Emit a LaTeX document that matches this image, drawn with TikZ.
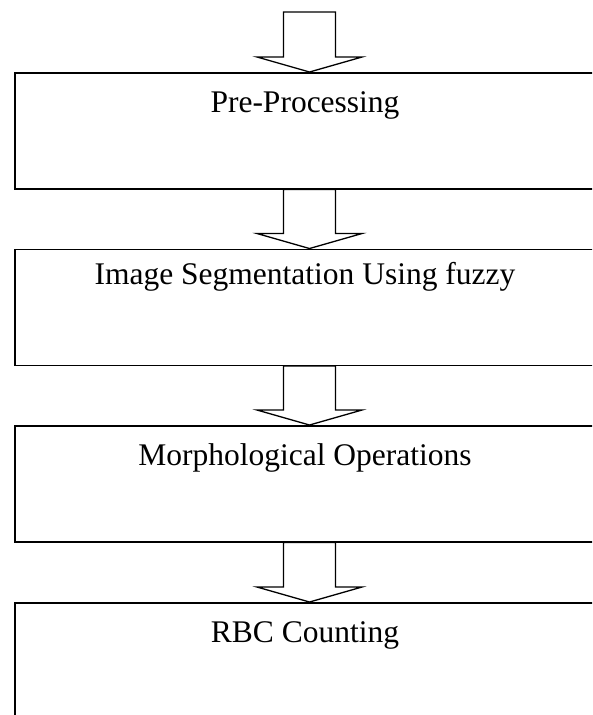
\documentclass[tikz,border=0pt]{standalone}
\usepackage{fontspec}
\setmainfont{Liberation Serif}
\usetikzlibrary{calc}
\begin{document}
\begin{tikzpicture}[x=1pt,y=-1pt,
  box/.style={draw, line width=1.5pt, minimum width=600pt, minimum height=116pt, inner sep=0pt, anchor=north west},
  lbl/.style={font=\fontsize{31.5}{36}\selectfont, anchor=base, inner sep=0pt},
  fat/.style={draw, line width=1.3pt, line join=miter}]
\useasboundingbox (0,0) rectangle (592,715);
\clip (0,0) rectangle (592,715);
\coordinate (col) at (309.5,0);
\coordinate (tcol) at (305,0);
\coordinate (start) at (309.5,12);
\node[box] (b1) at (14,72) {};
\node[box] (b2) at (14,248.5) {};
\node[box] (b3) at (14,425) {};
\node[box] (b4) at (14,602) {};
\node[lbl] (t1) at ($(b1.north -| tcol)+(0,40)$) {Pre-Processing};
\node[lbl] (t2) at ($(b2.north -| tcol)+(0,36)$) {Image Segmentation Using fuzzy};
\node[lbl] (t3) at ($(b3.north -| tcol)+(0,40)$) {Morphological Operations};
\node[lbl] (t4) at ($(b4.north -| tcol)+(0,40)$) {RBC Counting};
\newcommand\fatarrow[2]{%
  \draw[fat] ($(#1)+(-26,0)$) -- ($(#2)+(-26,-15)$) -- ($(#2)+(-52.5,-15)$) -- (#2)
    -- ($(#2)+(52.5,-15)$) -- ($(#2)+(26,-15)$) -- ($(#1)+(26,0)$) -- cycle;}
\coordinate (a1s) at (start);
\coordinate (a1e) at (b1.north -| col);
\coordinate (a2s) at (b1.south -| col);
\coordinate (a2e) at (b2.north -| col);
\coordinate (a3s) at (b2.south -| col);
\coordinate (a3e) at (b3.north -| col);
\coordinate (a4s) at (b3.south -| col);
\coordinate (a4e) at (b4.north -| col);
\fatarrow{a1s}{a1e}
\fatarrow{a2s}{a2e}
\fatarrow{a3s}{a3e}
\fatarrow{a4s}{a4e}
\end{tikzpicture}
\end{document}
